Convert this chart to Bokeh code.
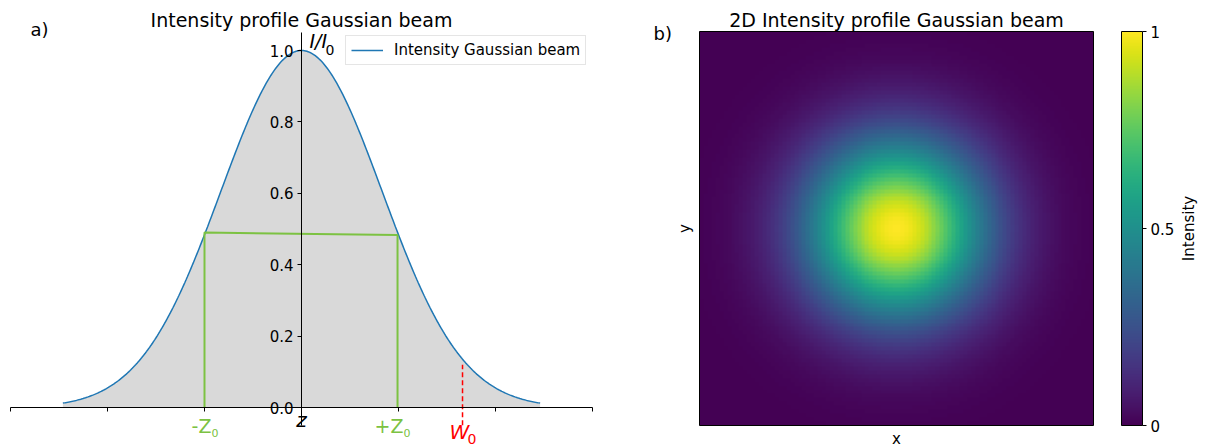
import math
import numpy as np
from bokeh.plotting import figure
from bokeh.layouts import row
from bokeh.models import (LinearAxis, FixedTicker, Label, LinearColorMapper,
                          PrintfTickFormatter)
from bokeh.palettes import Viridis256
from bokeh.embed import file_html
from bokeh.resources import INLINE

FONT = "DejaVu Sans"
HEIGHT = 447

# ---- 1D profile -----------------------------------------------------------
beam_waist = 1.66              # W0, where I/I0 drops to 1/e^2
profile_half_width = 2.46      # sampled z range of the profile
z_ticks = [-3, -2, -1, 0, 1, 2, 3]
intensity_ticks = [0.0, 0.2, 0.4, 0.6, 0.8, 1.0]

# bracket marking -z0 .. +z0 at half intensity
bracket_z = [-1.0, -1.0, 0.99, 0.99]
bracket_i = [0.0, 0.49, 0.483, 0.0]
# dashed marker at the waist
waist_marker_i = [-0.05, 0.12]

# ---- 2D profile -----------------------------------------------------------
grid_points = 100
grid_half_width = 2.5
beam_waist_2d = 1.6
colorbar_ticks = [0, 0.5, 1]
colorbar_tick_labels = ["0", "0.5", "1"]

GREEN = "#7cc242"
BLUE = "#1f77b4"


def view(px_a, val_a, px_b, val_b, lo_px, hi_px):
    """Data range seen between two canvas pixels, given two pixel/value anchors."""
    k = (val_b - val_a) / (px_b - px_a)
    return (val_a + (lo_px - px_a) * k, val_a + (hi_px - px_a) * k)


def text(p, x, y, s, size="15px", color="black", **kw):
    p.add_layout(Label(x=x, y=y, text=s, text_font=FONT, text_font_size=size,
                       text_color=color, **kw))


z = np.linspace(-profile_half_width, profile_half_width, 400)
intensity = np.exp(-2.0 * z**2 / beam_waist**2)

# ---------------------------------------------------------------------------
# left panel: z = 0 at x=301px, 97px per unit; I = 0 at y=407px, 357px per unit
W1 = 620
p1 = figure(width=W1, height=HEIGHT,
            x_range=view(301, 0, 398, 1, 0, W1),
            y_range=view(407, 0, 50, 1, HEIGHT, 0),
            x_axis_location=None, y_axis_location=None,
            min_border=0, output_backend="svg", toolbar_location=None)
p1.outline_line_color = None
p1.grid.visible = False

p1.varea(x=z, y1=0, y2=intensity, fill_color="#d9d9d9")
p1.line(z, intensity, line_color=BLUE, line_width=1.5, legend_label="Intensity Gaussian beam")
p1.line(bracket_z, bracket_i, line_color=GREEN, line_width=2)
p1.line([beam_waist, beam_waist], waist_marker_i, line_color="red", line_width=1.5,
        line_dash="5 3")

yax = LinearAxis(fixed_location=0, bounds=(-0.05, 1.05),
                 ticker=FixedTicker(ticks=intensity_ticks),
                 formatter=PrintfTickFormatter(format="%.1f"),
                 major_tick_in=0, major_tick_out=4, minor_tick_line_color=None,
                 major_label_standoff=4, major_label_text_font=FONT,
                 major_label_text_font_size="15px", major_label_text_color="black",
                 axis_line_color="black", major_tick_line_color="black")
p1.add_layout(yax, "left")
xax = LinearAxis(fixed_location=0, bounds=(-3, 3), ticker=FixedTicker(ticks=z_ticks),
                 major_label_overrides={t: "" for t in z_ticks},
                 major_tick_in=0, major_tick_out=4, minor_tick_line_color=None,
                 axis_line_color="black", major_tick_line_color="black")
p1.add_layout(xax, "below")

leg = p1.legend[0]
leg.location = (345, HEIGHT - 65)
leg.margin = 0
leg.padding = 5
leg.spacing = 0
leg.label_height = 16
leg.glyph_height = 16
leg.glyph_width = 32
leg.label_standoff = 11
leg.label_text_font = FONT
leg.label_text_font_size = "15px"
leg.label_text_color = "black"
leg.border_line_color = "#cccccc"
leg.background_fill_alpha = 0.8

text(p1, 0, 1.054, "Intensity profile Gaussian beam", size="19px", text_align="center")
text(p1, -2.794, 1.030, "a)", size="18px")
text(p1, 0.082, 0.9955, "I/I", size="19px", text_font_style="italic")
text(p1, 0.247, 0.9877, "0", size="14px")
text(p1, 0, -0.0695, "z", size="20px", text_font_style="italic", text_align="center")
text(p1, -0.928, -0.0829, "-Z", size="19px", color=GREEN, text_align="right")
text(p1, -0.928, -0.0829, "0", size="11px", color=GREEN)
text(p1, 1.052, -0.0829, "+Z", size="19px", color=GREEN, text_align="right")
text(p1, 1.052, -0.0829, "0", size="11px", color=GREEN)
text(p1, 1.526, -0.1030, "W", size="20px", color="red", text_font_style="italic")
text(p1, 1.711, -0.1030, "0", size="14px", color="red")

# ---------------------------------------------------------------------------
# right panel: image spans x 699..1093px and y 425..31px
mapper = LinearColorMapper(palette=Viridis256, low=0, high=1)

g = np.linspace(-grid_half_width, grid_half_width, grid_points)
gx, gy = np.meshgrid(g, g)
intensity_2d = np.exp(-2.0 * (gx**2 + gy**2) / beam_waist_2d**2)

X2 = 620
W2 = 491
gw = grid_half_width
p2 = figure(width=W2, height=HEIGHT,
            x_range=view(699 - X2, -gw, 1093 - X2, gw, 0, W2),
            y_range=view(425, -gw, 31, gw, HEIGHT, 0),
            x_axis_location=None, y_axis_location=None,
            min_border=0, output_backend="svg", toolbar_location=None)
p2.outline_line_color = None
p2.grid.visible = False
p2.image(image=[intensity_2d], x=-gw, y=-gw, dw=2 * gw, dh=2 * gw, color_mapper=mapper)
p2.quad(left=[-gw], right=[gw], bottom=[-gw], top=[gw], fill_color=None,
        line_color="black", line_width=1)

text(p2, 0, 2.505, "2D Intensity profile Gaussian beam", size="19px", text_align="center")
text(p2, -3.084, 2.344, "b)", size="18px")
text(p2, 0, -2.665, "x", text_align="center", text_baseline="middle")
text(p2, -2.678, 0, "y", text_align="center", text_baseline="middle", angle=math.pi / 2)

# ---- colour bar: bar spans x 1121..1142px ---------------------------------
X3 = X2 + W2
W3 = 1207 - X3
p3 = figure(width=W3, height=HEIGHT,
            x_range=view(1121 - X3, 0, 1142 - X3, 1, 0, W3),
            y_range=view(425, 0, 31, 1, HEIGHT, 0),
            x_axis_location=None, y_axis_location=None,
            min_border=0, output_backend="svg", toolbar_location=None)
p3.outline_line_color = None
p3.grid.visible = False
p3.image(image=[np.linspace(0, 1, 256).reshape(-1, 1)], x=0, y=0, dw=1, dh=1,
         color_mapper=mapper)
p3.quad(left=[0], right=[1], bottom=[0], top=[1], fill_color=None,
        line_color="black", line_width=1)
cax = LinearAxis(fixed_location=1, bounds=(0, 1), ticker=FixedTicker(ticks=colorbar_ticks),
                 major_label_overrides=dict(zip(colorbar_ticks, colorbar_tick_labels)),
                 axis_line_color=None, major_tick_in=0, major_tick_out=4,
                 minor_tick_line_color=None, major_tick_line_color="black",
                 major_label_standoff=4, major_label_text_font=FONT,
                 major_label_text_font_size="15px", major_label_text_color="black")
p3.add_layout(cax, "right")
text(p3, (1188 - 1121) / 21, 0.5, "Intensity", text_align="center", text_baseline="middle",
     angle=math.pi / 2)

layout = row(p1, p2, p3)
open("out.html", "w").write(file_html(layout, INLINE))
